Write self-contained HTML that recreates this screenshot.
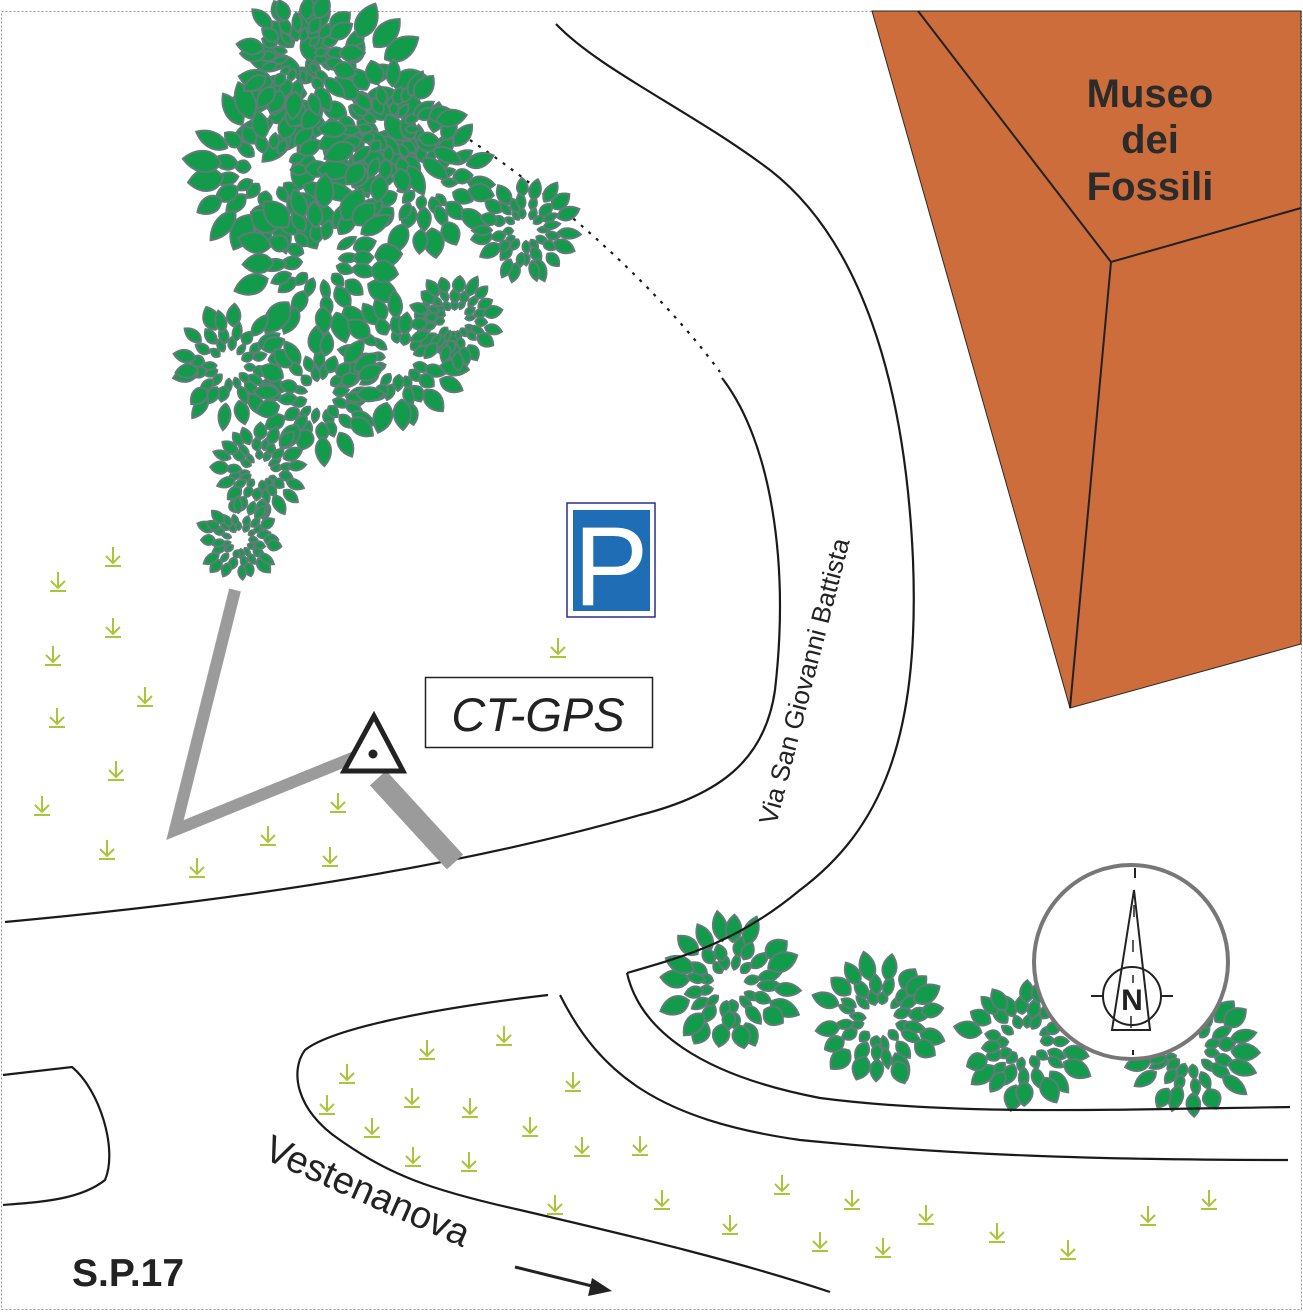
<!DOCTYPE html>
<html><head><meta charset="utf-8"><style>
html,body{margin:0;padding:0;background:#fff}
svg{display:block}
text{font-family:"Liberation Sans",sans-serif}
</style></head><body>
<svg id="s" width="1303" height="1312" viewBox="0 0 1303 1312" xmlns="http://www.w3.org/2000/svg">
<rect x="1.5" y="11.5" width="1300" height="1298" fill="#fff" stroke="#999" stroke-width="1" stroke-dasharray="2,2"/>
<polygon points="872,11 1301,11 1301,644 1070,708" fill="#cc6d3b" stroke="#2a2a2a" stroke-width="1"/>
<path d="M918,11 L1111,262 L1301,208 M1111,262 L1070,708" fill="none" stroke="#222" stroke-width="2"/>
<text x="1150" y="107" font-size="40" font-weight="bold" fill="#2b2b2b" text-anchor="middle">Museo</text>
<text x="1150" y="153" font-size="40" font-weight="bold" fill="#2b2b2b" text-anchor="middle">dei</text>
<text x="1150" y="200" font-size="40" font-weight="bold" fill="#2b2b2b" text-anchor="middle">Fossili</text>
<g fill="none" stroke="#1a1a1a" stroke-width="2.2">
<path d="M470,140 C560,200 660,290 720,372" stroke-dasharray="3,7"/>
</g>
<g id="trees"></g>
<g id="grass" stroke="#a9c63a" stroke-width="2" fill="none"></g>
<g fill="none" stroke="#1a1a1a" stroke-width="2.2">
<path d="M722,378 C770,440 790,560 775,690 C765,760 720,795 640,815 C500,855 300,895 5,922"/>
<path d="M556,24 C600,70 690,110 770,170 C860,240 905,380 913,560 C920,740 880,830 800,890 C740,940 690,955 627,973"/>
<path d="M627,973 C640,1030 700,1075 820,1098 C950,1115 1100,1110 1290,1107"/>
<path d="M560,995 C600,1075 660,1120 800,1140 C950,1155 1100,1160 1288,1160"/>
<path d="M548,995 C420,1010 330,1030 305,1050 C290,1070 295,1110 340,1140 C390,1175 430,1190 520,1210 C640,1238 740,1262 830,1292"/>
<path d="M3,1075 L72,1067 C100,1090 118,1150 105,1180 C80,1200 40,1202 3,1205"/>
</g>
<polyline points="235,590 175,830 355,757" fill="none" stroke="#9b9b9b" stroke-width="12"/>
<line x1="378" y1="778" x2="455" y2="862" stroke="#9b9b9b" stroke-width="22"/>
<polygon points="374,716 344,771 403,771" fill="#fff" stroke="#222" stroke-width="5"/>
<circle cx="373" cy="754" r="4.5" fill="#222"/>
<rect x="567" y="503" width="88" height="114" fill="#fff" stroke="#2a2f8a" stroke-width="1.5"/>
<rect x="573" y="510" width="77" height="101" fill="#1f6db5"/>
<text x="611" y="605" font-family="Liberation Serif,serif" font-size="112" fill="#fff" text-anchor="middle">P</text>
<rect x="425.5" y="677.5" width="227" height="70" fill="#fff" stroke="#222" stroke-width="1.5"/>
<text x="538" y="731" font-size="47" font-style="italic" fill="#222" text-anchor="middle">CT-GPS</text>
<text transform="translate(776,826) rotate(-75.5)" font-size="26" fill="#222">Via San Giovanni Battista</text>
<text transform="translate(262,1158) rotate(24)" font-size="38" fill="#222">Vestenanova</text>
<line x1="515" y1="1267" x2="596" y2="1287" stroke="#222" stroke-width="3"/>
<polygon points="612,1291 592,1278 588,1296" fill="#222"/>
<text x="72" y="1286" font-size="39" font-weight="bold" fill="#222">S.P.17</text>
<g>
<circle cx="1131" cy="962" r="97" fill="#fff" stroke="#777" stroke-width="4"/>
<path d="M1135,868 v10 M1133,1050 v5" stroke="#222" stroke-width="2"/>
<polygon points="1134,890 1112,1030 1150,1030" fill="none" stroke="#222" stroke-width="2"/>
<circle cx="1132" cy="996" r="29" fill="none" stroke="#222" stroke-width="2"/>
<path d="M1091,996 h12 M1161,996 h12" stroke="#222" stroke-width="2"/>
<path d="M1134,905 v12 M1133,940 v12 M1133,975 v8 M1131,1016 v12" stroke="#222" stroke-width="1.5"/>
<text x="1132" y="1010" font-size="30" font-weight="bold" fill="#222" text-anchor="middle">N</text>
</g>
</svg>
<script>
(function(){
var NS="http://www.w3.org/2000/svg";
var seed=7;function rnd(){seed=(seed*16807)%2147483647;return seed/2147483647;}
var T=document.getElementById("trees");
function leaf(cx,cy,a,d,L,W){
  var x=cx+Math.cos(a)*d,y=cy+Math.sin(a)*d;
  var p=document.createElementNS(NS,"path");
  p.setAttribute("d","M0,0 C"+(L*0.25)+","+(-W)+" "+(L*0.7)+","+(-W*0.8)+" "+L+",0 C"+(L*0.7)+","+(W*0.8)+" "+(L*0.25)+","+W+" 0,0Z");
  p.setAttribute("transform","translate("+x.toFixed(1)+","+y.toFixed(1)+") rotate("+(a*180/Math.PI).toFixed(1)+")");
  p.setAttribute("fill","#139b4c");p.setAttribute("stroke","#627a78");p.setAttribute("stroke-width","2");
  T.appendChild(p);
}
function ros(cx,cy,R){
  var rings=[[0.22,0.22],[0.38,0.28],[0.58,0.38]];
  for(var k=0;k<rings.length;k++){
    var d=rings[k][0]*R, L=rings[k][1]*R, W=L*0.42;
    var n=Math.max(7,Math.round(2*Math.PI*d/(W*1.3)));
    var off=rnd()*6;
    for(var i=0;i<n;i++){
      var a=i/n*2*Math.PI+off+(rnd()-0.5)*0.3;
      leaf(cx,cy,a,d*(0.9+rnd()*0.2),L*(0.8+rnd()*0.35),W*(0.8+rnd()*0.4));
    }
  }
}
var big=[[330,95,105],[270,170,90],[425,180,78],[525,230,55],[320,260,88],[390,130,75],[230,365,62],[400,360,72],[320,395,68],[260,470,50],[240,540,44],[455,320,50],[300,55,65]];
big.forEach(function(b){ros(b[0],b[1],b[2]);});
[[730,985,74],[880,1020,70],[1025,1042,70],[1190,1050,70]].forEach(function(b){ros(b[0],b[1],b[2]);});
var G=document.getElementById("grass");
var pts=[[58,582],[113,557],[113,628],[53,656],[57,718],[145,697],[116,771],[42,806],[107,850],[197,868],[268,836],[330,857],[338,803],[558,648],[427,1050],[504,1036],[347,1074],[327,1105],[412,1098],[372,1128],[470,1108],[573,1082],[530,1127],[413,1157],[469,1162],[582,1147],[640,1146],[782,1185],[662,1200],[555,1205],[730,1225],[852,1200],[820,1242],[883,1248],[926,1215],[997,1233],[1068,1250],[1148,1216],[1209,1200]];
pts.forEach(function(p){
  var x=p[0],y=p[1];
  var e=document.createElementNS(NS,"path");
  e.setAttribute("d","M"+x+","+(y-10)+" V"+(y+6)+" M"+(x-7)+","+(y-1)+" L"+x+","+(y+6)+" L"+(x+7)+","+(y-1)+" M"+(x-8)+","+(y+9)+" H"+(x+8));
  G.appendChild(e);
});
})();
</script>
</body></html>
